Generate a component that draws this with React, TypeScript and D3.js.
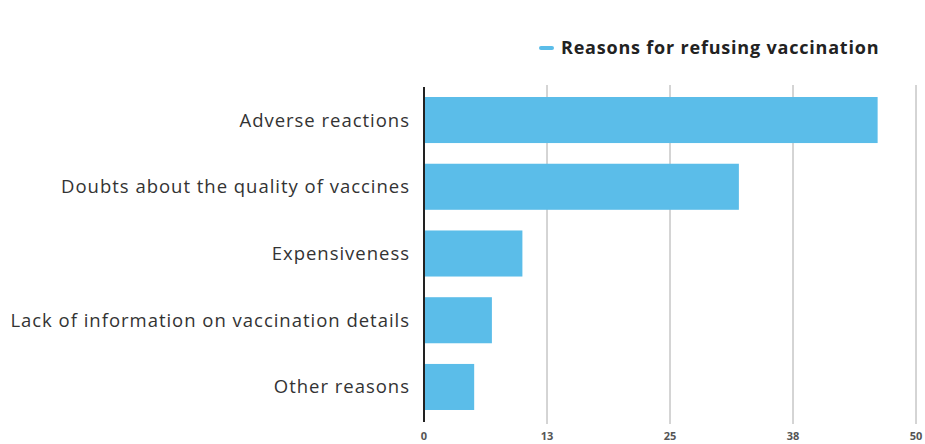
import React from "react";
import * as d3 from "d3";

const categories = [
  "Adverse reactions",
  "Doubts about the quality of vaccines",
  "Expensiveness",
  "Lack of information on vaccination details",
  "Other reasons",
];
const values = [46.1, 32.0, 10.0, 6.9, 5.1];
const tickValues = [0, 12.5, 25, 37.5, 50];
const tickLabels = ["0", "13", "25", "38", "50"];
const seriesName = "Reasons for refusing vaccination";

const W = 925;
const H = 444;
const left = 424;
const right = 916;
const top = 87;
const bottom = 420;
const barColor = "#5bbde9";
const font = "'Open Sans', sans-serif";

export default function App() {
  const x = d3.scaleLinear().domain([0, 50]).range([left, right]);
  const y = d3.scaleBand<string>().domain(categories).range([top, bottom]).paddingInner(0.31).paddingOuter(0.15);
  return (
    <svg width={W} height={H} style={{ position: "absolute", left: 0, top: 0, background: "#fff" }}>
      {tickValues.map((t, i) => (
        <g key={t}>
          {i > 0 && (
            <line x1={x(t)} x2={x(t)} y1={top - 2} y2={bottom + 4} stroke="#aaa" strokeWidth={1} />
          )}
          <text x={x(t)} y={440} textAnchor="middle" fontFamily={font} fontWeight={700} fontSize={11} fill="#555">
            {tickLabels[i]}
          </text>
        </g>
      ))}
      {categories.map((c, i) => (
        <g key={c}>
          <rect x={x(0)} y={y(c)!} width={x(values[i]) - x(0)} height={y.bandwidth()} fill={barColor} />
          <text
            x={410}
            y={y(c)! + y.bandwidth() / 2}
            dy="0.35em"
            textAnchor="end"
            fontFamily={font}
            fontSize={18.5}
            letterSpacing={0.98}
            fill="#333"
          >
            {c}
          </text>
        </g>
      ))}
      <line x1={left} x2={left} y1={top} y2={bottom + 2} stroke="#222" strokeWidth={2} />
      <line x1={541} x2={552} y1={48} y2={48} stroke={barColor} strokeWidth={4} strokeLinecap="round" />
      <text x={561} y={48} dy="0.35em" fontFamily={font} fontWeight={700} fontSize={18} letterSpacing={0.8} fill="#222">
        {seriesName}
      </text>
    </svg>
  );
}
